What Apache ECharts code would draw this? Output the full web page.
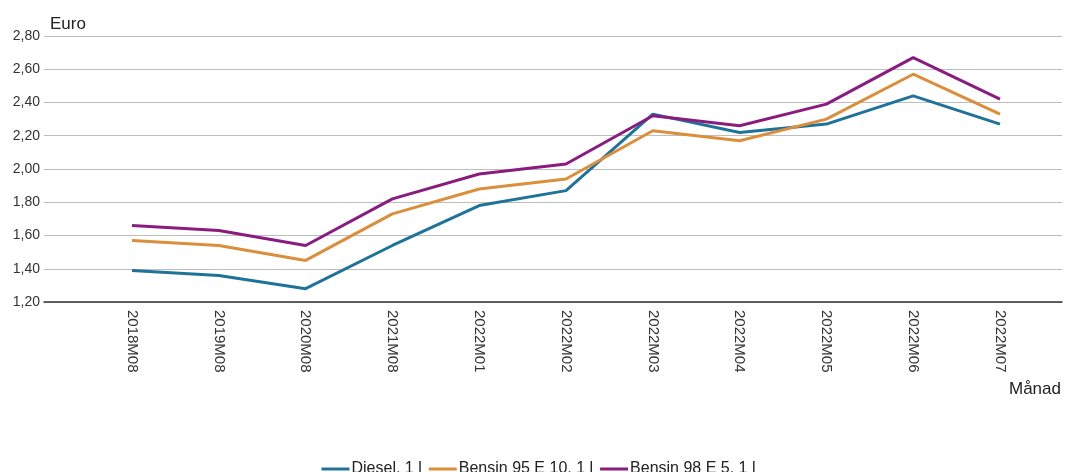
<!DOCTYPE html>
<html>
<head>
<meta charset="utf-8">
<script src="https://cdn.jsdelivr.net/npm/echarts@6/dist/echarts.min.js"></script>
<style>html,body{margin:0;padding:0;background:#fff}#c{width:1077px;height:472px}</style>
</head>
<body>
<div id="c"></div>
<script>
var categories = ['2018M08','2019M08','2020M08','2021M08','2022M01','2022M02','2022M03','2022M04','2022M05','2022M06','2022M07'];
var diesel = [1.39,1.36,1.28,1.54,1.78,1.87,2.33,2.22,2.27,2.44,2.27];
var bensin95 = [1.57,1.54,1.45,1.73,1.88,1.94,2.23,2.17,2.30,2.57,2.33];
var bensin98 = [1.66,1.63,1.54,1.82,1.97,2.03,2.32,2.26,2.39,2.67,2.42];
var seriesNames = ['Diesel, 1 l','Bensin 95 E 10, 1 l','Bensin 98 E 5, 1 l'];
var yTicks = {min:1.2, max:2.8, interval:0.2};

var chart = echarts.init(document.getElementById('c'));
var font = 'Liberation Sans, Arial, sans-serif';
var colors = ['#1f7399','#d98f3c','#8a1c80'];
chart.setOption({
  animation:false,
  textStyle:{fontFamily:font},
  grid:[
    {left:44, right:15, top:36, bottom:170},
    {left:88.6, right:33.6, top:36, bottom:170}
  ],
  legend:{
    top:456, left:'center', itemWidth:28, itemHeight:3, itemGap:7,
    icon:'rect',
    textStyle:{fontFamily:font, fontSize:16, color:'#222', padding:[0,0,0,-3]},
    data:seriesNames
  },
  xAxis:[
    {gridIndex:0, type:'category', data:categories, show:true,
     axisLine:{lineStyle:{color:'#333', width:1.5}}, axisTick:{show:false}, axisLabel:{show:false}},
    {gridIndex:1, type:'category', data:categories, boundaryGap:true,
     axisLine:{show:false}, axisTick:{show:false},
     axisLabel:{rotate:-90, margin:8, fontSize:15, color:'#333', fontFamily:font}}
  ],
  yAxis:[
    {gridIndex:0, type:'value', min:yTicks.min, max:yTicks.max, interval:yTicks.interval,
     name:'Euro', nameLocation:'end', nameGap:3,
     nameTextStyle:{align:'left', fontSize:17, color:'#222', padding:[0,0,0,6], fontFamily:font},
     axisLine:{show:false}, axisTick:{show:false},
     axisLabel:{fontSize:14, color:'#333', margin:4, fontFamily:font,
       formatter:function(v){return v.toFixed(2).replace('.',',');}},
     splitLine:{lineStyle:{color:'#bdbdbd', width:1}}},
    {gridIndex:1, type:'value', min:yTicks.min, max:yTicks.max, interval:yTicks.interval, show:false,
     splitLine:{show:false}}
  ],
  graphic:[{type:'text', left:1009, top:381, style:{text:'Månad', font:'17px '+font, fill:'#222'}}],
  series:[
    {name:seriesNames[0], type:'line', xAxisIndex:1, yAxisIndex:1, data:diesel, symbol:'none', lineStyle:{width:3,color:colors[0]}, itemStyle:{color:colors[0]}},
    {name:seriesNames[1], type:'line', xAxisIndex:1, yAxisIndex:1, data:bensin95, symbol:'none', lineStyle:{width:3,color:colors[1]}, itemStyle:{color:colors[1]}},
    {name:seriesNames[2], type:'line', xAxisIndex:1, yAxisIndex:1, data:bensin98, symbol:'none', lineStyle:{width:3,color:colors[2]}, itemStyle:{color:colors[2]}}
  ]
});
</script>
</body>
</html>
